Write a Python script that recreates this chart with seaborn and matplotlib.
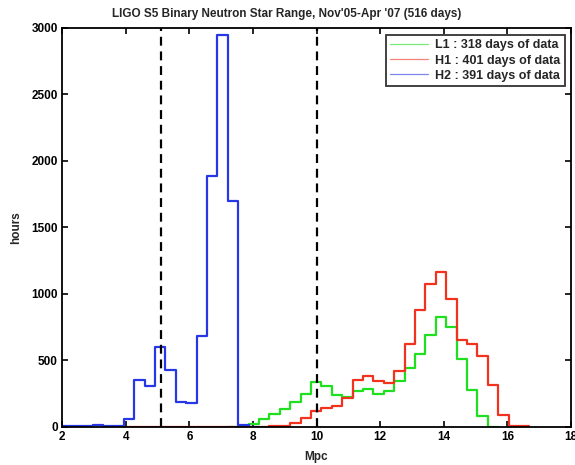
import numpy as np
import pandas as pd
import seaborn as sns
from matplotlib import pyplot as plt

# binning (~0.327 Mpc wide bins starting just below 2 Mpc)
BIN_START = 1.98
BIN_WIDTH = 0.327

# hours per bin, bin index k covers [BIN_START + k*BIN_WIDTH, ...)
# H2: bins 0..18
h2_hours = [10, 5, 3, 12, 8, 3, 60, 350, 305, 600, 428, 190, 180, 680, 1885, 2945, 1700, 15, 0]
H2_FIRST = 0
# H1: bins 6..44
h1_hours = [0, 0, 0, 0, 0, 0, 0, 0, 0, 0, 0, 0, 0, 2, 4, 10, 30, 70, 120, 140, 160, 220,
            352, 382, 344, 332, 422, 620, 880, 1075, 1168, 960, 650, 625, 530, 318, 88, 10, 10]
H1_FIRST = 6
# L1: bins 16..41
l1_hours = [0, 3, 25, 60, 95, 133, 185, 245, 335, 305, 242, 225, 266, 286, 248, 270,
            345, 442, 550, 688, 828, 750, 513, 275, 80, 0]
L1_FIRST = 16

labels = ["L1 : 318 days of data", "H1 : 401 days of data", "H2 : 391 days of data"]
colors = ["#1fe01f", "#f0321e", "#2837e6"]
ranges_lines = [5.1, 10.0]


def to_frame(hours, first):
    lo = BIN_START + BIN_WIDTH * first
    centers = lo + BIN_WIDTH * (np.arange(len(hours)) + 0.5)
    return pd.DataFrame({"mpc": centers, "hours": hours}), (lo, lo + BIN_WIDTH * len(hours))


sns.set_style("ticks")
plt.rcParams['font.family'] = ['Liberation Sans', 'DejaVu Sans']

fig = plt.figure(figsize=(5.75, 4.65), dpi=100)
ax = fig.add_axes([0.108, 0.082, 0.885, 0.858])

for hours, first, lab, col in zip([l1_hours, h1_hours, h2_hours],
                                  [L1_FIRST, H1_FIRST, H2_FIRST], labels, colors):
    df, rng = to_frame(hours, first)
    sns.histplot(data=df, x="mpc", weights="hours", bins=len(hours), binrange=rng,
                 element="step", fill=False, color=col, linewidth=1.6, label=lab, ax=ax)

for xv in ranges_lines:
    ax.axvline(xv, color="black", linestyle=(0, (4, 2.6)), linewidth=1.6)

ax.set_xlim(2, 18)
ax.set_ylim(0, 3000)
ax.set_xticks(np.arange(2, 19, 2))
ax.set_yticks(np.arange(0, 3001, 500))
ax.tick_params(direction="in", top=True, right=True, length=4, width=1.2,
               labelsize=8.5, pad=3, colors="black")
for lbl in ax.get_xticklabels() + ax.get_yticklabels():
    lbl.set_fontweight("bold")
for s in ax.spines.values():
    s.set_linewidth(1.3)
    s.set_color("black")

ax.set_xlabel("Mpc", fontsize=8.5, fontweight="bold", labelpad=6)
ax.set_ylabel("hours", fontsize=8.5, fontweight="bold", labelpad=7)
# the title sits a bit left of the axes centre in the original
ax.set_title("LIGO S5 Binary Neutron Star Range, Nov'05-Apr '07 (516 days)",
             fontsize=8.5, fontweight="bold", pad=8, x=0.441)

leg = ax.legend(loc="upper right", bbox_to_anchor=(0.988, 0.982), borderaxespad=0,
                prop={"size": 9, "weight": "bold"}, frameon=True, fancybox=False,
                handlelength=3.0, handletextpad=0.6, borderpad=0.35, labelspacing=0.25)
leg.get_frame().set_edgecolor("black")
leg.get_frame().set_linewidth(1.3)
for line in leg.get_lines():
    line.set_linewidth(0.9)
    line.set_alpha(0.6)

fig.savefig("out.png", dpi=100)
